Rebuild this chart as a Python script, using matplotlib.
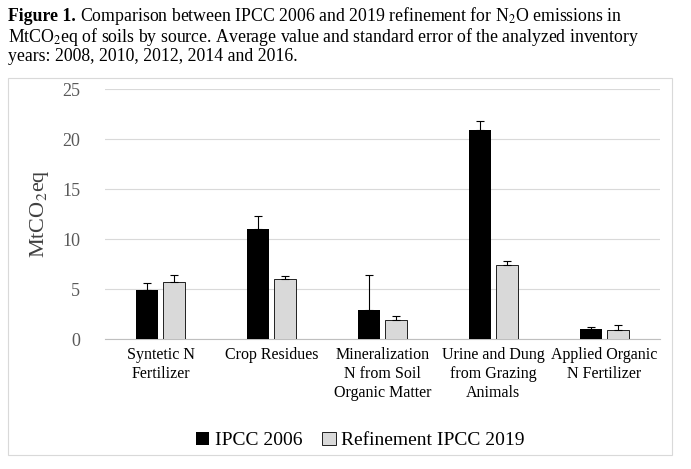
import matplotlib.pyplot as plt
import numpy as np

plt.rcParams["font.family"] = ["Liberation Serif", "DejaVu Serif"]
plt.rcParams["mathtext.fontset"] = "stix"

categories = [
    "Syntetic N\nFertilizer",
    "Crop Residues",
    "Mineralization\nN from Soil\nOrganic Matter",
    "Urine and Dung\nfrom Grazing\nAnimals",
    "Applied Organic\nN Fertilizer",
]
ipcc2006 = np.array([4.9, 11.0, 2.9, 20.9, 1.0])
ipcc2006_err = np.array([0.7, 1.3, 3.5, 0.9, 0.2])
ipcc2019 = np.array([5.7, 6.0, 1.9, 7.4, 0.9])
ipcc2019_err = np.array([0.7, 0.3, 0.4, 0.4, 0.5])

fig = plt.figure(figsize=(6.91, 4.69), dpi=100)
ax = fig.add_axes([0.152, 0.277, 0.803, 0.533])

x = np.arange(len(categories))
w = 0.2
err_kw = dict(ecolor="black", elinewidth=0.8, capsize=3, capthick=0.8)
ax.bar(x - 0.12, ipcc2006, w, color="black", label="IPCC 2006",
       yerr=[np.zeros(5), ipcc2006_err], error_kw=err_kw, zorder=3)
ax.bar(x + 0.12, ipcc2019, w, color="#d9d9d9", edgecolor="black", linewidth=0.6,
       label="Refinement IPCC 2019",
       yerr=[np.zeros(5), ipcc2019_err], error_kw=err_kw, zorder=3)

ax.set_ylim(0, 25)
ax.set_xlim(-0.5, 4.5)
ax.set_yticks(range(0, 26, 5))
ax.yaxis.grid(True, color="#d9d9d9", linewidth=0.8, zorder=0)
ax.set_xticks(x)
ax.set_xticklabels(categories, fontsize=11.5, linespacing=1.25)
ax.tick_params(axis="y", labelsize=13, colors="#595959", length=0, pad=18)
ax.tick_params(axis="x", length=0, pad=6)
for s in ["top", "right", "left"]:
    ax.spines[s].set_visible(False)
ax.spines["bottom"].set_color("#bfbfbf")
ax.set_ylabel("MtCO$_2$eq", fontsize=16, color="#404040", labelpad=8)

ax.legend(loc="upper center", bbox_to_anchor=(0.46, -0.30), ncol=2, frameon=False,
          fontsize=14, handlelength=0.7, handleheight=0.7, columnspacing=1.0,
          handletextpad=0.3)

# chart frame
fig.patches.append(plt.Rectangle((8 / 691, 1 - 455 / 469), 664 / 691, 377 / 469,
                                 transform=fig.transFigure, fill=False,
                                 edgecolor="#d9d9d9", linewidth=0.8))

# caption
fig.canvas.draw()
r = fig.canvas.get_renderer()
t = fig.text(0.012, 0.965, "Figure 1.", fontsize=12.8, fontweight="bold", va="center")
bb = t.get_window_extent(r)
fig.text((bb.x1 + 4) / fig.bbox.width, 0.965,
         "Comparison between IPCC 2006 and 2019 refinement for N$_2$O emissions in",
         fontsize=12.8, va="center")
fig.text(0.012, 0.922,
         "MtCO$_2$eq of soils by source. Average value and standard error of the analyzed inventory",
         fontsize=12.8, va="center")
fig.text(0.012, 0.879, "years: 2008, 2010, 2012, 2014 and 2016.", fontsize=12.8, va="center")

fig.savefig("out.png", dpi=100)
